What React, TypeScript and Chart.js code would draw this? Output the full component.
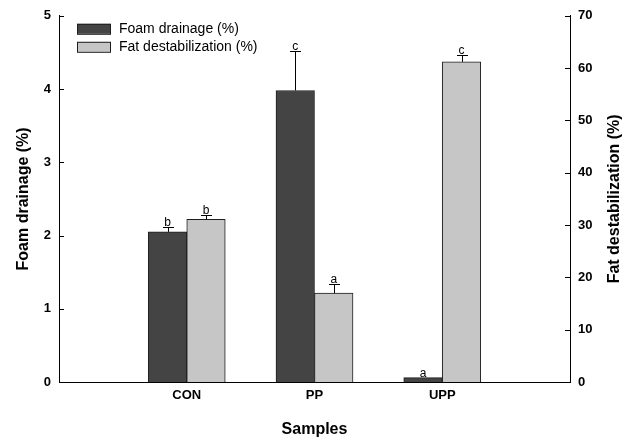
import React, { useEffect, useRef } from 'react';
import { Chart, registerables } from 'chart.js';

Chart.register(...registerables);

const categories = ['CON', 'PP', 'UPP'];
const foamDrainage = [2.05, 3.98, 0.06];
const foamDrainageErr = [0.06, 0.54, 0.0];
const foamLetters = ['b', 'c', 'a'];
const fatDestabilization = [31.1, 17.0, 61.2];
const fatDestabilizationErr = [0.8, 1.8, 1.3];
const fatLetters = ['b', 'a', 'c'];
const leftAxisRange = [0, 5, 1];
const rightAxisRange = [0, 70, 10];
const rightTitle = 'Fat destabilization (%)';

const FONT = "'Liberation Sans', Arial, sans-serif";
const DARK = '#444444';
const LIGHT = '#c6c6c6';
const EDGE = '#1e1e1e';

const padded = <T,>(arr: T[]) => [null, ...arr, null];

const errorBarPlugin = {
  id: 'errorBars',
  afterDatasetsDraw(chart: any) {
    const ctx = chart.ctx;
    const sets = [
      { err: foamDrainageErr, letters: foamLetters },
      { err: fatDestabilizationErr, letters: fatLetters },
    ];
    ctx.save();
    chart.data.datasets.forEach((ds: any, di: number) => {
      const meta = chart.getDatasetMeta(di);
      const yScale = chart.scales[ds.yAxisID];
      meta.data.forEach((el: any, i: number) => {
        const v = ds.data[i];
        if (v === null || v === undefined) return;
        const k = i - 1;
        const e = sets[di].err[k];
        const x = Math.round(el.x) + 0.5;
        const yTop = Math.round(yScale.getPixelForValue(v + e)) + 0.5;
        const yBar = yScale.getPixelForValue(v);
        ctx.strokeStyle = '#000';
        ctx.lineWidth = 1;
        if (e > 0) {
          ctx.beginPath();
          ctx.moveTo(x, yBar);
          ctx.lineTo(x, yTop);
          ctx.moveTo(x - 5.5, yTop);
          ctx.lineTo(x + 5.5, yTop);
          ctx.stroke();
        }
        ctx.fillStyle = '#000';
        ctx.font = `12px ${FONT}`;
        ctx.textAlign = 'center';
        ctx.textBaseline = 'alphabetic';
        ctx.fillText(sets[di].letters[k], el.x, yTop - 2);
      });
    });
    ctx.restore();
  },
};

const tickMarkPlugin = {
  id: 'inwardTicks',
  afterDraw(chart: any) {
    const ctx = chart.ctx;
    const ca = chart.chartArea;
    ctx.save();
    ctx.strokeStyle = '#000';
    ctx.lineWidth = 1;
    const yl = chart.scales.y;
    yl.ticks.forEach((t: any) => {
      const py = Math.round(yl.getPixelForValue(t.value)) + 0.5;
      ctx.beginPath();
      ctx.moveTo(ca.left, py);
      ctx.lineTo(ca.left + 5, py);
      ctx.stroke();
    });
    const yr = chart.scales.y1;
    yr.ticks.forEach((t: any) => {
      const py = Math.round(yr.getPixelForValue(t.value)) + 0.5;
      ctx.beginPath();
      ctx.moveTo(ca.right, py);
      ctx.lineTo(ca.right - 5, py);
      ctx.stroke();
    });
    // right axis title, reading bottom-to-top
    ctx.translate(yr.right - 19, (ca.top + ca.bottom) / 2);
    ctx.rotate(-Math.PI / 2);
    ctx.fillStyle = '#000';
    ctx.font = `bold 16px ${FONT}`;
    ctx.textAlign = 'center';
    ctx.textBaseline = 'middle';
    ctx.fillText(rightTitle, 0, 0);
    ctx.restore();
  },
};

const legendPlugin = {
  id: 'customLegend',
  afterDraw(chart: any) {
    const ctx = chart.ctx;
    const ca = chart.chartArea;
    ctx.save();
    const x0 = ca.left + 18;
    const items = chart.data.datasets.map((d: any) => ({ label: d.label, color: d.backgroundColor }));
    items.forEach((it: any, i: number) => {
      const y = ca.top + 8 + i * 18;
      ctx.fillStyle = it.color;
      ctx.fillRect(x0, y, 34, 10);
      ctx.strokeStyle = EDGE;
      ctx.lineWidth = 1;
      ctx.strokeRect(x0 + 0.5, y + 0.5, 33, 10);
      ctx.fillStyle = '#000';
      ctx.font = `14px ${FONT}`;
      ctx.textAlign = 'left';
      ctx.textBaseline = 'middle';
      ctx.fillText(it.label, x0 + 42, y + 5.5);
    });
    ctx.restore();
  },
};

export default function App() {
  const ref = useRef<HTMLCanvasElement | null>(null);
  useEffect(() => {
    if (!ref.current) return;
    const chart = new Chart(ref.current, {
      type: 'bar',
      data: {
        labels: ['', ...categories, ''],
        datasets: [
          {
            label: 'Foam drainage (%)',
            data: padded(foamDrainage) as any,
            backgroundColor: DARK,
            borderColor: EDGE,
            borderWidth: 1,
            yAxisID: 'y',
            barThickness: 38.5,
          },
          {
            label: 'Fat destabilization (%)',
            data: padded(fatDestabilization) as any,
            backgroundColor: LIGHT,
            borderColor: EDGE,
            borderWidth: 1,
            yAxisID: 'y1',
            barThickness: 38.5,
          },
        ],
      },
      options: {
        responsive: false,
        animation: false,
        layout: { padding: { top: 15, left: 0, right: 0, bottom: 0 } },
        plugins: {
          legend: { display: false },
          tooltip: { enabled: false },
        },
        scales: {
          x: {
            type: 'category',
            offset: false,
            grid: { display: false, drawTicks: false },
            border: { display: true, color: '#000', width: 1 },
            ticks: {
              color: '#000',
              font: { family: FONT, size: 13, weight: 'bold' },
              padding: 6,
              autoSkip: false,
              maxRotation: 0,
            },
            title: {
              display: true,
              text: 'Samples',
              color: '#000',
              font: { family: FONT, size: 16, weight: 'bold' },
              padding: { top: 0, bottom: 0 },
            },
            afterFit: (s: any) => { s.height = 57; },
          },
          y: {
            type: 'linear',
            position: 'left',
            min: leftAxisRange[0],
            max: leftAxisRange[1],
            grid: { display: false, drawTicks: false },
            border: { display: true, color: '#000', width: 1 },
            ticks: {
              stepSize: leftAxisRange[2],
              color: '#000',
              font: { family: FONT, size: 13, weight: 'bold' },
              padding: 8,
            },
            title: {
              display: true,
              text: 'Foam drainage (%)',
              color: '#000',
              font: { family: FONT, size: 16, weight: 'bold' },
              padding: { top: 14, bottom: 0 },
            },
            afterFit: (s: any) => { s.width = 59; },
          },
          y1: {
            type: 'linear',
            position: 'right',
            min: rightAxisRange[0],
            max: rightAxisRange[1],
            grid: { display: false, drawTicks: false },
            border: { display: true, color: '#000', width: 1 },
            ticks: {
              stepSize: rightAxisRange[2],
              color: '#000',
              font: { family: FONT, size: 13, weight: 'bold' },
              padding: 8,
            },
            title: { display: false },
            afterFit: (s: any) => { s.width = 64; },
          },
        },
      } as any,
      plugins: [errorBarPlugin, tickMarkPlugin, legendPlugin],
    });
    return () => chart.destroy();
  }, []);
  return (
    <div style={{ position: 'absolute', left: 0, top: 0, width: 634, height: 439, background: '#fff' }}>
      <canvas ref={ref} width={634} height={439} style={{ display: 'block' }} />
    </div>
  );
}
